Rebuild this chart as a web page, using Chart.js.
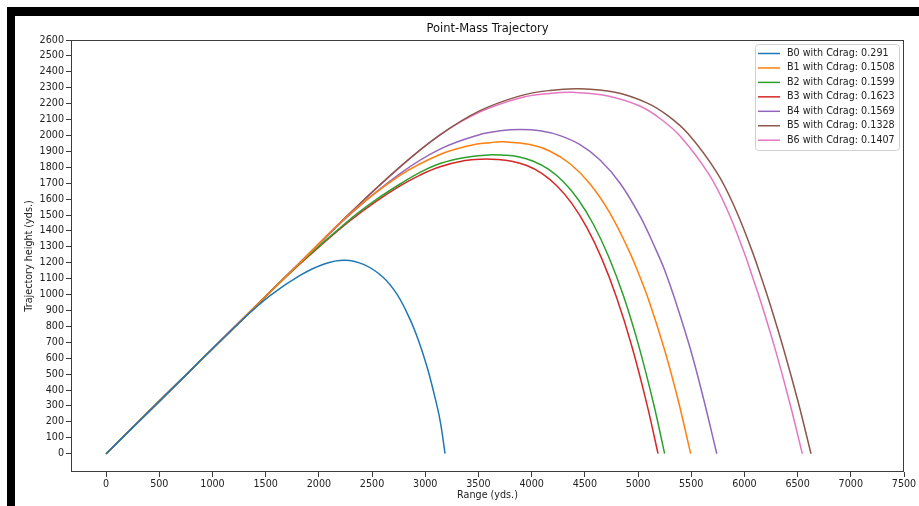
<!DOCTYPE html>
<html>
<head>
<meta charset="utf-8">
<script src="https://cdn.jsdelivr.net/npm/chart.js@4.4.1/dist/chart.umd.min.js"></script>
<style>
    html, body { margin: 0; padding: 0; background: #fff; }
    #wrap { position: relative; width: 919px; height: 506px; overflow: hidden; }
    #chart { position: absolute; left: 0; top: 0; }
    .band { position: absolute; background: #000; }
</style>
</head>
<body>
<div id="wrap">
    <canvas id="chart" width="919" height="506"></canvas>
    <div class="band" style="left:7px;top:7px;width:912px;height:9px"></div>
    <div class="band" style="left:7px;top:7px;width:8px;height:499px"></div>
</div>
<script>
// series labels, drag coefficients and colours
var names = ["B0", "B1", "B2", "B3", "B4", "B5", "B6"];
var cdrag = ["0.291", "0.1508", "0.1599", "0.1623", "0.1569", "0.1328", "0.1407"];
var colors = ["#1f77b4", "#ff7f0e", "#2ca02c", "#d62728", "#9467bd", "#8c564b", "#e377c2"];

// tick labels
var xTicks = [0, 500, 1000, 1500, 2000, 2500, 3000, 3500, 4000, 4500, 5000, 5500, 6000, 6500, 7000, 7500];
var yTicks = [0, 100, 200, 300, 400, 500, 600, 700, 800, 900, 1000, 1100, 1200, 1300, 1400, 1500, 1600, 1700, 1800, 1900, 2000, 2100, 2200, 2300, 2400, 2500, 2600];

// range (yds.) / height (yds.)
var b0Range = [0, 508, 884, 1259, 1541, 1823, 2058, 2246, 2425, 2603, 2735, 2857, 2937, 3017, 3078, 3139, 3186];
var b0Height = [0, 334, 584, 828, 993, 1121, 1194, 1216, 1188, 1109, 1001, 844, 710, 545, 390, 210, 0];

var b1Range = [0, 498, 996, 1447, 1823, 2293, 2763, 3139, 3421, 3609, 3734, 3985, 4173, 4361, 4549, 4737, 4911, 4991, 5099, 5249, 5376, 5495];
var b1Height = [0, 329, 656, 954, 1200, 1508, 1749, 1880, 1937, 1955, 1960, 1943, 1901, 1822, 1695, 1511, 1281, 1156, 967, 653, 339, 0];

var b2Range = [0, 498, 996, 1447, 1823, 2293, 2528, 2763, 2951, 3139, 3374, 3593, 3734, 3875, 4016, 4157, 4298, 4439, 4580, 4721, 4862, 5003, 5144, 5250];
var b2Height = [0, 329, 656, 953, 1198, 1473, 1592, 1695, 1768, 1824, 1862, 1878, 1876, 1866, 1838, 1788, 1709, 1596, 1442, 1243, 994, 687, 320, 0];

var b3Range = [0, 498, 996, 1353, 1729, 2011, 2293, 2528, 2763, 2951, 3139, 3374, 3531, 3672, 3813, 3954, 4095, 4236, 4377, 4518, 4659, 4800, 4941, 5082, 5188];
var b3Height = [0, 329, 656, 892, 1136, 1305, 1464, 1581, 1683, 1751, 1803, 1842, 1851, 1849, 1838, 1811, 1762, 1684, 1573, 1422, 1226, 979, 677, 315, 0];

var b4Range = [0, 498, 996, 1447, 1823, 2293, 2763, 3139, 3515, 3703, 3891, 4079, 4267, 4455, 4643, 4831, 5019, 5169, 5249, 5348, 5494, 5618, 5740];
var b4Height = [0, 329, 656, 954, 1200, 1504, 1760, 1914, 2006, 2029, 2037, 2029, 1999, 1942, 1846, 1700, 1493, 1281, 1156, 967, 653, 339, 0];

var b5Range = [0, 498, 996, 1447, 1823, 2293, 2763, 3139, 3515, 3891, 4173, 4455, 4784, 5082, 5277, 5473, 5740, 5912, 6062, 6147, 6241, 6372, 6504, 6626];
var b5Height = [0, 329, 656, 955, 1202, 1512, 1803, 2004, 2156, 2249, 2283, 2293, 2271, 2205, 2126, 2009, 1768, 1543, 1292, 1131, 939, 649, 328, 0];

var b6Range = [0, 498, 996, 1447, 1823, 2293, 2763, 3139, 3515, 3891, 4173, 4389, 4718, 5016, 5210, 5405, 5670, 5840, 5989, 6072, 6165, 6295, 6424, 6544];
var b6Height = [0, 329, 657, 956, 1203, 1513, 1803, 2004, 2148, 2236, 2264, 2271, 2248, 2185, 2105, 1989, 1752, 1530, 1280, 1119, 932, 643, 325, 0];

var ranges = [b0Range, b1Range, b2Range, b3Range, b4Range, b5Range, b6Range];
var heights = [b0Height, b1Height, b2Height, b3Height, b4Height, b5Height, b6Height];

var FONT = "'DejaVu Sans', sans-serif";

function zip(xs, ys) {
    return xs.map(function (x, i) {
        return { x: x, y: ys[i] };
    });
}

var datasets = names.map(function (name, i) {
    return {
        label: name + " with Cdrag: " + cdrag[i],
        data: zip(ranges[i], heights[i]),
        borderColor: colors[i],
        backgroundColor: colors[i],
        borderWidth: 1.5,
        pointRadius: 0,
        showLine: true,
        tension: 0.4,
    };
});

// axes box + matplotlib style legend in the upper right
var framePlugin = {
    id: "frame",
    afterDatasetsDraw: function (chart) {
        var ctx = chart.ctx,
            a = chart.chartArea;

        ctx.save();
        ctx.strokeStyle = "#3c3c3c";
        ctx.lineWidth = 1;
        ctx.strokeRect(Math.round(a.left) + 0.5, Math.round(a.top) + 0.5, Math.round(a.right - a.left) - 1, Math.round(a.bottom - a.top) - 1);

        var lx = 755, ly = 44, lw = 144, lh = 106;
        ctx.fillStyle = "rgba(255,255,255,0.8)";
        ctx.strokeStyle = "#d0d0d0";
        ctx.beginPath();
        ctx.roundRect(lx + 0.5, ly + 0.5, lw, lh, 3);
        ctx.fill();
        ctx.stroke();

        ctx.font = "9.6px " + FONT;
        ctx.textBaseline = "middle";
        ctx.textAlign = "left";
        chart.data.datasets.forEach(function (ds, i) {
            var y = 53.5 + i * 14.45;
            ctx.strokeStyle = ds.borderColor;
            ctx.lineWidth = 1.5;
            ctx.beginPath();
            ctx.moveTo(758, y);
            ctx.lineTo(780, y);
            ctx.stroke();
            ctx.fillStyle = "#222";
            ctx.fillText(ds.label, 787, y);
        });
        ctx.restore();
    },
};

function plain(v) {
    return String(v);
}

new Chart(document.getElementById("chart"), {
    type: "scatter",
    data: { datasets: datasets },
    plugins: [framePlugin],
    options: {
        responsive: false,
        animation: false,
        layout: { padding: { top: 10, right: 15, left: 0, bottom: 0 } },
        plugins: {
            legend: { display: false },
            tooltip: { enabled: false },
            title: {
                display: true,
                text: "Point-Mass Trajectory",
                fullSize: false,
                color: "#111",
                font: { family: FONT, size: 11.5, weight: "normal" },
                padding: { top: 12, bottom: 4.2 },
            },
        },
        scales: {
            x: {
                type: "linear",
                min: -330,
                max: 7500,
                afterBuildTicks: function (scale) {
                    scale.ticks = xTicks.map(function (v) { return { value: v }; });
                },
                afterFit: function (scale) {
                    scale.height = 34;
                },
                grid: { drawOnChartArea: false, drawTicks: true, tickLength: 5, color: "#3c3c3c" },
                border: { display: false },
                ticks: {
                    autoSkip: false,
                    maxRotation: 0,
                    padding: 2,
                    color: "#222",
                    font: { family: FONT, size: 9.6 },
                    callback: plain,
                },
                title: {
                    display: true,
                    text: "Range (yds.)",
                    color: "#222",
                    font: { family: FONT, size: 9.6 },
                    padding: { top: 0, bottom: 5 },
                },
            },
            y: {
                type: "linear",
                min: -115,
                max: 2600,
                afterBuildTicks: function (scale) {
                    scale.ticks = yTicks.map(function (v) { return { value: v }; });
                },
                afterFit: function (scale) {
                    scale.width = 71;
                },
                grid: { drawOnChartArea: false, drawTicks: true, tickLength: 5, color: "#3c3c3c" },
                border: { display: false },
                ticks: {
                    autoSkip: false,
                    padding: 2,
                    color: "#222",
                    font: { family: FONT, size: 9.6 },
                    callback: plain,
                },
                title: {
                    display: true,
                    text: "Trajectory height (yds.)",
                    color: "#222",
                    font: { family: FONT, size: 9.6 },
                    padding: { top: 24, bottom: 0 },
                },
            },
        },
    },
});
</script>
</body>
</html>
